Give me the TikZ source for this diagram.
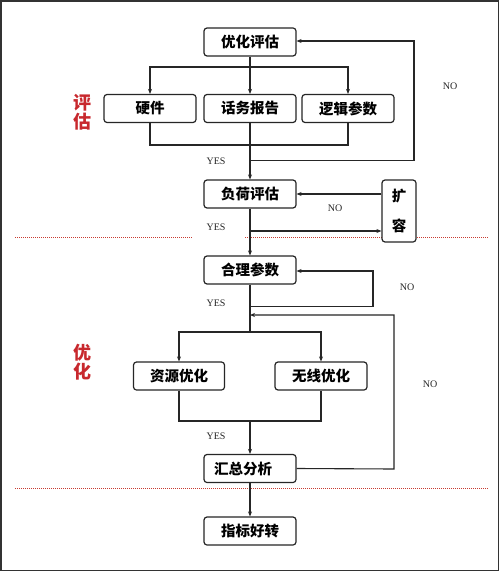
\documentclass[tikz,border=0pt]{standalone}
\usepackage{fontspec}
\setmainfont{Liberation Serif}
\newfontfamily\cjk{Noto Sans CJK SC}
\usetikzlibrary{arrows.meta}
\definecolor{redlbl}{HTML}{C8282D}
\definecolor{dotred}{HTML}{C83C32}
\begin{document}
\begin{tikzpicture}[x=1pt,y=-1pt,
  box/.style={draw=black!85, line width=1.2pt, rounded corners=3pt, fill=white,
    minimum width=92pt, minimum height=28pt, inner sep=0pt, font=\cjk\bfseries\fontsize{14.5}{16}\selectfont},
  conn/.style={draw=black!85, line width=1.1pt},
  arr/.style={conn, -{Stealth[length=5pt,width=4pt]}},
  yn/.style={font=\fontsize{10}{12}\selectfont, text=black!85},
  side/.style={font=\cjk\bfseries\fontsize{18}{19}\selectfont, text=redlbl, align=center, inner sep=0pt},
  sep/.style={draw=dotred, line width=0.9pt, dash pattern=on 1pt off 1pt}]
\useasboundingbox (0,0) rectangle (500,572);
\fill[white] (0,0) rectangle (500,572);
\draw[black!80, line width=1.8pt] (1,1) rectangle (498.5,570.5);

% separators
\draw[sep] (15,237) -- (192,237);
\draw[sep] (245,237) -- (488,237);
\draw[sep] (15,488) -- (488,488);

% side labels
\node[side] (lblA) at (82,112.5) {评\\估};
\node[side] (lblB) at (82,362.5) {优\\化};

% nodes
\node[box] (n1) at (250,42) {优化评估};
\node[box] (hw) at (150,108.5) {硬件};
\node[box] (hua) at (250,108.5) {话务报告};
\node[box] (lj) at (348,108.5) {逻辑参数};
\node[box] (fh) at (250,194) {负荷评估};
\node[box, minimum width=34pt, minimum height=62pt, align=center] (kr) at (399,211) {扩\\[14pt]容};
\node[box] (hl) at (250,270) {合理参数};
\node[box, minimum width=91pt] (zy) at (179,376) {资源优化};
\node[box] (wx) at (321,376) {无线优化};
\node[box] (hz) at (250,468.5) {\hspace*{-14pt}汇总分析};
\node[box] (zb) at (250,531) {指标好转};

% coordinates
\coordinate (b1) at (250,67);
\coordinate (m1) at (250,145);
\coordinate (f1) at (250,160.7);
\coordinate (c2) at (250,231);
\coordinate (f2) at (250,306.7);
\coordinate (f3) at (250,315);
\coordinate (b2) at (250,332);
\coordinate (m2) at (250,421);

% top branch
\draw[conn] (n1.south) -- (b1);
\draw[arr] (b1) -- (hua.north);
\draw[arr] (b1) -| (hw.north);
\draw[arr] (b1) -| (lj.north);
\draw[conn] (hw.south) |- (m1) -| (lj.south);
\draw[arr] (hua.south) -- (fh.north);
\draw[arr] (f1) -- (414,160.7) -- (414,41) -- (n1.east |- 0,41);

% 扩容 loop
\draw[arr] (kr.west |- fh.east) -- (fh.east);
\draw[arr] (c2) -- (kr.west |- c2);

\draw[arr] (fh.south) -- (hl.north);
\draw[arr] (f2) -- (373,306.7) -- (373,271) -- (hl.east |- 0,271);
\draw[arr] (hz.east) -- (394,469) -- (394,315) -- (f3);

% second branch
\draw[conn] (hl.south) -- (b2);
\draw[arr] (b2) -| (zy.north);
\draw[arr] (b2) -| (wx.north);
\draw[conn] (zy.south) |- (m2) -| (wx.south);
\draw[arr] (m2) -- (hz.north);
\draw[arr] (hz.south) -- (zb.north);

% labels
\node[yn] (y1) at (216,161) {YES};
\node[yn] (y2) at (216,227) {YES};
\node[yn] (y3) at (216,303) {YES};
\node[yn] (y4) at (216,436) {YES};
\node[yn] (no1) at (450,86) {NO};
\node[yn] (no2) at (335,208) {NO};
\node[yn] (no3) at (407,287) {NO};
\node[yn] (no4) at (430,384) {NO};
\end{tikzpicture}
\end{document}
